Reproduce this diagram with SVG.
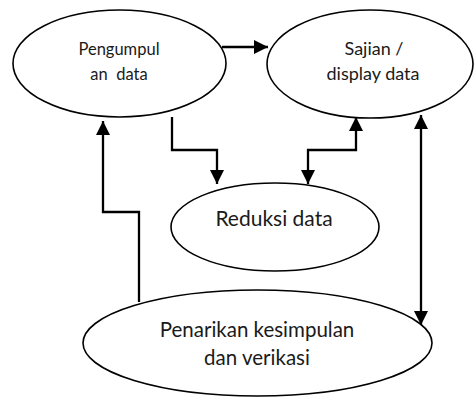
<svg xmlns="http://www.w3.org/2000/svg" width="474" height="398" viewBox="0 0 474 398">
<style>
.node{fill:#fff;stroke:#000;stroke-width:1.6}
.t{font-family:Lato,"Liberation Sans",sans-serif;fill:#1a1a1a;text-anchor:middle;white-space:pre}
.c{fill:none;stroke:#000;stroke-width:2.3}
</style>
<defs>
<marker id="ah" markerUnits="userSpaceOnUse" markerWidth="16" markerHeight="16" viewBox="0 0 16 16" refX="15" refY="8" orient="auto-start-reverse">
<path d="M1,1 L15,8 L1,15 Z" fill="#000"/>
</marker>
</defs>
<rect width="474" height="398" fill="#fff"/>
<g id="connectors">
<path class="c" d="M222,47 H268" marker-end="url(#ah)"/>
<path class="c" d="M172,117 V150 H217 V184" marker-end="url(#ah)"/>
<path class="c" d="M356,117 V150 H308 V184" marker-start="url(#ah)" marker-end="url(#ah)"/>
<path class="c" d="M421,115 V325" marker-start="url(#ah)" marker-end="url(#ah)"/>
<path class="c" d="M139,302 V212 H103 V121" marker-end="url(#ah)"/>
</g>
<g id="n1">
<ellipse class="node" cx="119.5" cy="63.5" rx="106.5" ry="53.5"/>
<text class="t" x="119" y="55" font-size="16.5">Pengumpul</text>
<text class="t" x="119" y="80" font-size="16.5" xml:space="preserve">an  data</text>
</g>
<g id="n2">
<ellipse class="node" cx="370" cy="64" rx="103" ry="54"/>
<text class="t" x="374" y="55" font-size="18">Sajian /</text>
<text class="t" x="373" y="80" font-size="18">display data</text>
</g>
<g id="n3">
<ellipse class="node" cx="275" cy="227" rx="104" ry="44"/>
<text class="t" x="274" y="226" font-size="21">Reduksi data</text>
</g>
<g id="n4">
<ellipse class="node" cx="257.5" cy="343" rx="174.5" ry="53"/>
<text class="t" x="257" y="337" font-size="20.5">Penarikan kesimpulan</text>
<text class="t" x="257" y="365" font-size="20.5">dan verikasi</text>
</g>
</svg>
